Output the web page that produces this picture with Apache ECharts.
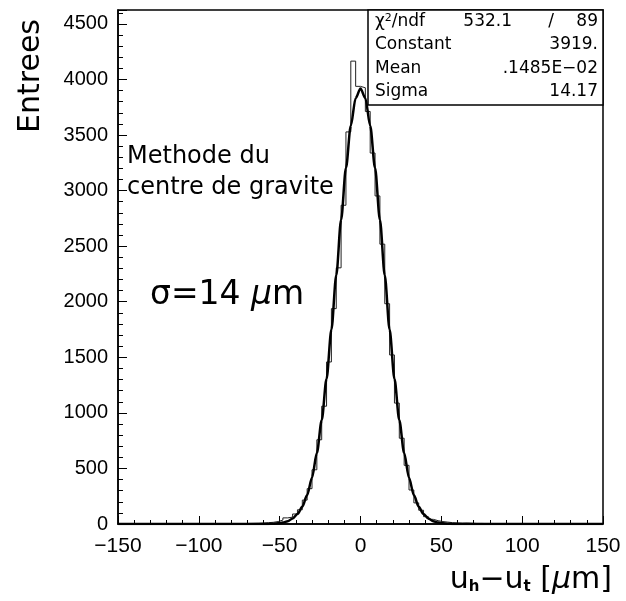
<!DOCTYPE html>
<html>
<head>
<meta charset="utf-8">
<title></title>
<script src="https://cdn.jsdelivr.net/npm/echarts@6/dist/echarts.min.js"></script>
<style type="text/css">
	body { margin: 0; background: #fff; }
	div#main { width: 626px; height: 601px; }
</style>
</head>
<body>
<div id="main"></div>
<script type="text/javascript">
// histogram: 100 bins of 3 um from -150 to 150
var binMin = -150;
var binWidth = 3;
var counts = [
	0, 0, 0, 0, 0, 0, 0, 1, 0, 0,
	1, 0, 0, 1, 0, 1, 1, 0, 1, 2,
	1, 2, 2, 3, 3, 4, 5, 6, 7, 9,
	12, 15, 22, 35, 55, 62, 90, 128, 215, 318,
	488, 758, 1060, 1458, 1938, 2305, 2868, 3528, 4165, 3938,
	3925, 3712, 3338, 2952, 2518, 1982, 1521, 1088, 772, 528,
	306, 190, 124, 66, 42, 30, 22, 17, 12, 10,
	8, 9, 7, 5, 5, 4, 3, 2, 2, 1,
	1, 1, 0, 1, 0, 0, 1, 0, 0, 0,
	0, 1, 0, 0, 0, 0, 0, 0, 0, 0
];
// gaussian fit curve
var fitX = [-150, -60, -57, -54, -51, -48, -45, -42, -39, -36, -33, -30, -27, -24, -21, -18, -15, -12, -9, -6, -3,
	0, 3, 6, 9, 12, 15, 18, 21, 24, 27, 30, 33, 36, 39, 42, 45, 48, 51, 54, 57, 60, 150];
var fitY = [0, 0, 1, 3, 6, 13, 25, 49, 89, 155, 260, 417, 638, 934, 1307, 1749, 2238, 2738, 3203, 3583, 3832,
	3919, 3832, 3583, 3203, 2738, 2238, 1749, 1307, 934, 638, 417, 260, 155, 89, 49, 25, 13, 6, 3, 1, 0, 0];
var statNames = ['Constant', 'Mean', 'Sigma'];
var statValues = ['3919.', '.1485E\u221202', '14.17'];

var histData = [];
for (var i = 0; i < counts.length; i++) {
	histData.push([binMin + i * binWidth, counts[i]]);
}
histData.push([binMin + counts.length * binWidth, counts[counts.length - 1]]);
var fitData = [];
for (var j = 0; j < fitX.length; j++) {
	fitData.push([fitX[j], fitY[j]]);
}

var yMax = 4625;
var labelFont = 'Liberation Sans';
var textFont = 'DejaVu Sans';

var myChart = echarts.init(document.getElementById('main'));
var graphics = [
	{ type: 'text', x: 31, y: 76, rotation: Math.PI / 2,
	  style: { text: 'Entrees', font: '30px ' + textFont, fill: '#000', align: 'center', verticalAlign: 'middle' } },
	{ type: 'text', x: 127, y: 157,
	  style: { text: 'Methode du', font: '24px ' + textFont, fill: '#000', verticalAlign: 'middle' } },
	{ type: 'text', x: 127, y: 188,
	  style: { text: 'centre de gravite', font: '24px ' + textFont, fill: '#000', verticalAlign: 'middle' } },
	{ type: 'text', x: 150, y: 295,
	  style: { text: '{n|\u03c3=14 }{i|\u03bc}{n|m}', fill: '#000', verticalAlign: 'middle',
	    rich: { n: { font: '33px ' + textFont }, i: { font: 'italic 33px ' + textFont } } } },
	{ type: 'text', x: 612, y: 580,
	  style: { text: '{n|u}{s|h}{n|\u2212u}{s|t}{n| [}{i|\u03bc}{n|m]}', fill: '#000', align: 'right', verticalAlign: 'middle',
	    rich: { n: { font: '30px ' + textFont }, s: { font: 'bold 15px ' + textFont, padding: [14, 0, 0, 0] },
	            i: { font: 'italic 30px ' + textFont } } } },
	{ type: 'rect', shape: { x: 368, y: 10, width: 235, height: 95 },
	  style: { fill: '#fff', stroke: '#000', lineWidth: 1.5 }, z: 10 },
	{ type: 'text', x: 375, y: 22, z: 11,
	  style: { text: '\u03c7{sup|2}/ndf', font: '17px ' + textFont, fill: '#000', verticalAlign: 'middle',
	    rich: { sup: { font: '11px ' + textFont, padding: [0, 0, 8, 0] } } } },
	{ type: 'text', x: 512, y: 22, z: 11,
	  style: { text: '532.1', font: '17px ' + textFont, fill: '#000', align: 'right', verticalAlign: 'middle' } },
	{ type: 'text', x: 551, y: 22, z: 11,
	  style: { text: '/', font: '17px ' + textFont, fill: '#000', align: 'center', verticalAlign: 'middle' } },
	{ type: 'text', x: 598, y: 22, z: 11,
	  style: { text: '89', font: '17px ' + textFont, fill: '#000', align: 'right', verticalAlign: 'middle' } }
];
for (var k = 0; k < statNames.length; k++) {
	graphics.push({ type: 'text', x: 375, y: 45 + k * 23.5, z: 11,
		style: { text: statNames[k], font: '17px ' + textFont, fill: '#000', verticalAlign: 'middle' } });
	graphics.push({ type: 'text', x: 598, y: 45 + k * 23.5, z: 11,
		style: { text: statValues[k], font: '17px ' + textFont, fill: '#000', align: 'right', verticalAlign: 'middle' } });
}

var option = {
	animation: false,
	backgroundColor: '#fff',
	grid: [{
		left: 118, top: 10, right: 23, bottom: 77,
		show: true, borderColor: '#000', borderWidth: 1.5, backgroundColor: 'transparent'
	}, {
		// same box, only carries the small ticks
		left: 118, top: 10, right: 23, bottom: 77, show: false
	}],
	xAxis: [{
		type: 'value', gridIndex: 0, min: -150, max: 150, interval: 50, position: 'bottom',
		axisLine: { show: true, onZero: false, lineStyle: { color: '#000', width: 1.5 } },
		axisTick: { show: true, inside: true, length: 8, lineStyle: { color: '#000', width: 1 } },
		axisLabel: { color: '#000', fontSize: 21, fontFamily: labelFont, margin: 12,
			formatter: function (v) { return String(v).replace('-', '\u2212'); } },
		splitLine: { show: false }
	}, {
		type: 'value', gridIndex: 1, min: -150, max: 150, interval: 10, position: 'bottom',
		axisLine: { show: false, onZero: false },
		axisTick: { show: true, inside: true, length: 4, lineStyle: { color: '#000', width: 1 } },
		axisLabel: { show: false },
		splitLine: { show: false }
	}],
	yAxis: [{
		type: 'value', gridIndex: 0, min: 0, max: yMax, interval: 500, position: 'left',
		axisLine: { show: true, onZero: false, lineStyle: { color: '#000', width: 1.5 } },
		axisTick: { show: true, inside: true, length: 9, lineStyle: { color: '#000', width: 1 } },
		axisLabel: { color: '#000', fontSize: 20, fontFamily: labelFont, margin: 10,
			formatter: function (v) { return v % 500 === 0 ? String(v) : ''; } },
		splitLine: { show: false }
	}, {
		type: 'value', gridIndex: 1, min: 0, max: yMax, interval: 100, position: 'left',
		axisLine: { show: false, onZero: false },
		axisTick: { show: true, inside: true, length: 5, lineStyle: { color: '#000', width: 1 } },
		axisLabel: { show: false },
		splitLine: { show: false }
	}],
	series: [{
		name: 'hist', type: 'line', step: 'end', data: histData,
		xAxisIndex: 0, yAxisIndex: 0,
		symbol: 'none', lineStyle: { color: '#222', width: 1 }, z: 2
	}, {
		name: 'fit', type: 'line', data: fitData, smooth: 0.3, smoothMonotone: 'x',
		xAxisIndex: 0, yAxisIndex: 0,
		symbol: 'none', lineStyle: { color: '#000', width: 2.5 }, z: 3
	}],
	graphic: graphics
};
myChart.setOption(option);
</script>
</body>
</html>
